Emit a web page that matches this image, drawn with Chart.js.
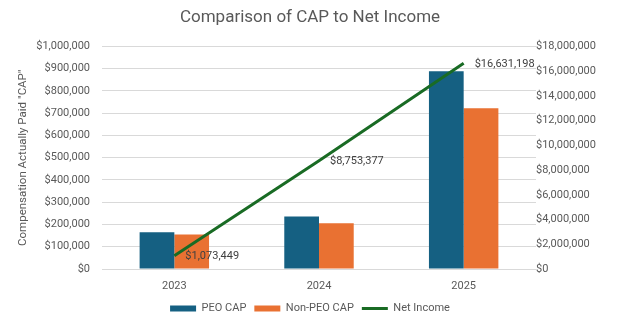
<!DOCTYPE html>
<html>
<head>
<meta charset="utf-8">
<script src="https://cdn.jsdelivr.net/npm/chart.js@4.4.1/dist/chart.umd.min.js"></script>
<style>
  html, body { margin: 0; padding: 0; background: #fff; }
  #wrap { width: 620px; height: 330px; }
</style>
</head>
<body>
<div id="wrap"><canvas id="canvas" width="620" height="330"></canvas></div>
<script>
let years = ['2023', '2024', '2025'];
let peoCap = [165000, 236000, 888000];
let nonPeoCap = [155000, 205000, 722000];
let netIncome = [1073449, 8753377, 16631198];

let fontFamily = 'Roboto, "Liberation Sans", sans-serif';
let textColor = '#595959';

function money(v) {
  return '$' + Math.round(v).toLocaleString('en-US');
}

// labels to the right of the net income points
let lineLabels = {
  id: 'lineLabels',
  afterDatasetsDraw(chart) {
    let ctx = chart.ctx;
    let meta = chart.getDatasetMeta(2);
    ctx.save();
    ctx.font = '11px ' + fontFamily;
    ctx.fillStyle = '#404040';
    ctx.textAlign = 'left';
    ctx.textBaseline = 'middle';
    meta.data.forEach(function(pt, i) {
      ctx.fillText(money(netIncome[i]), pt.x + 11, pt.y + 1);
    });
    ctx.restore();
  }
};

let options = {
  data: {
    labels: years,
    datasets: [
      {
        type: 'bar',
        label: 'PEO CAP',
        data: peoCap,
        backgroundColor: '#156082',
        yAxisID: 'y',
        order: 1,
        categoryPercentage: 0.48,
        barPercentage: 1
      },
      {
        type: 'bar',
        label: 'Non-PEO CAP',
        data: nonPeoCap,
        backgroundColor: '#E97132',
        yAxisID: 'y',
        order: 1,
        categoryPercentage: 0.48,
        barPercentage: 1
      },
      {
        type: 'line',
        label: 'Net Income',
        data: netIncome,
        borderColor: '#196B24',
        backgroundColor: '#196B24',
        borderWidth: 3,
        pointRadius: 0,
        yAxisID: 'y1',
        order: 0
      }
    ]
  },
  options: {
    responsive: false,
    animation: false,
    layout: { padding: { left: 0, right: 0, top: 0, bottom: 6 } },
    plugins: {
      title: {
        display: true,
        text: 'Comparison of CAP to Net Income',
        color: textColor,
        font: { family: fontFamily, size: 17, weight: 'normal' },
        padding: { top: 8, bottom: 18 }
      },
      legend: {
        position: 'bottom',
        labels: {
          color: textColor,
          font: { family: fontFamily, size: 11 },
          usePointStyle: true,
          pointStyleWidth: 26,
          boxHeight: 6,
          padding: 8,
          sort: function(a, b) { return a.datasetIndex - b.datasetIndex; },
          generateLabels: function(chart) {
            let items = Chart.defaults.plugins.legend.labels.generateLabels(chart);
            items.forEach(function(it) {
              if (it.datasetIndex === 2) {
                it.pointStyle = 'line';
                it.lineWidth = 3;
              } else {
                it.pointStyle = 'rect';
                it.lineWidth = 0;
              }
            });
            return items;
          }
        }
      },
      tooltip: { enabled: false }
    },
    scales: {
      x: {
        grid: { display: false },
        border: { display: false },
        ticks: { color: textColor, font: { family: fontFamily, size: 11 }, padding: 3 },
        afterFit: function(scale) { scale.height = 26; }
      },
      y: {
        position: 'left',
        min: 0,
        max: 1000000,
        ticks: {
          stepSize: 100000,
          color: textColor,
          font: { family: fontFamily, size: 11 },
          padding: 12,
          callback: function(v) { return money(v); }
        },
        grid: { color: '#D9D9D9', drawTicks: false },
        border: { display: false },
        title: {
          display: true,
          text: 'Compensation Actually Paid "CAP"',
          color: textColor,
          font: { family: fontFamily, size: 11.5 },
          padding: { top: 16, bottom: 4 }
        },
        afterFit: function(scale) { scale.width = 102; }
      },
      y1: {
        position: 'right',
        min: 0,
        max: 18000000,
        ticks: {
          stepSize: 2000000,
          color: textColor,
          font: { family: fontFamily, size: 11 },
          padding: 0,
          callback: function(v) { return money(v); }
        },
        grid: { display: false, drawTicks: false },
        border: { display: false },
        afterFit: function(scale) { scale.width = 84; }
      }
    }
  },
  plugins: [lineLabels]
};

let chart = new Chart(document.getElementById('canvas'), options);
</script>
</body>
</html>
